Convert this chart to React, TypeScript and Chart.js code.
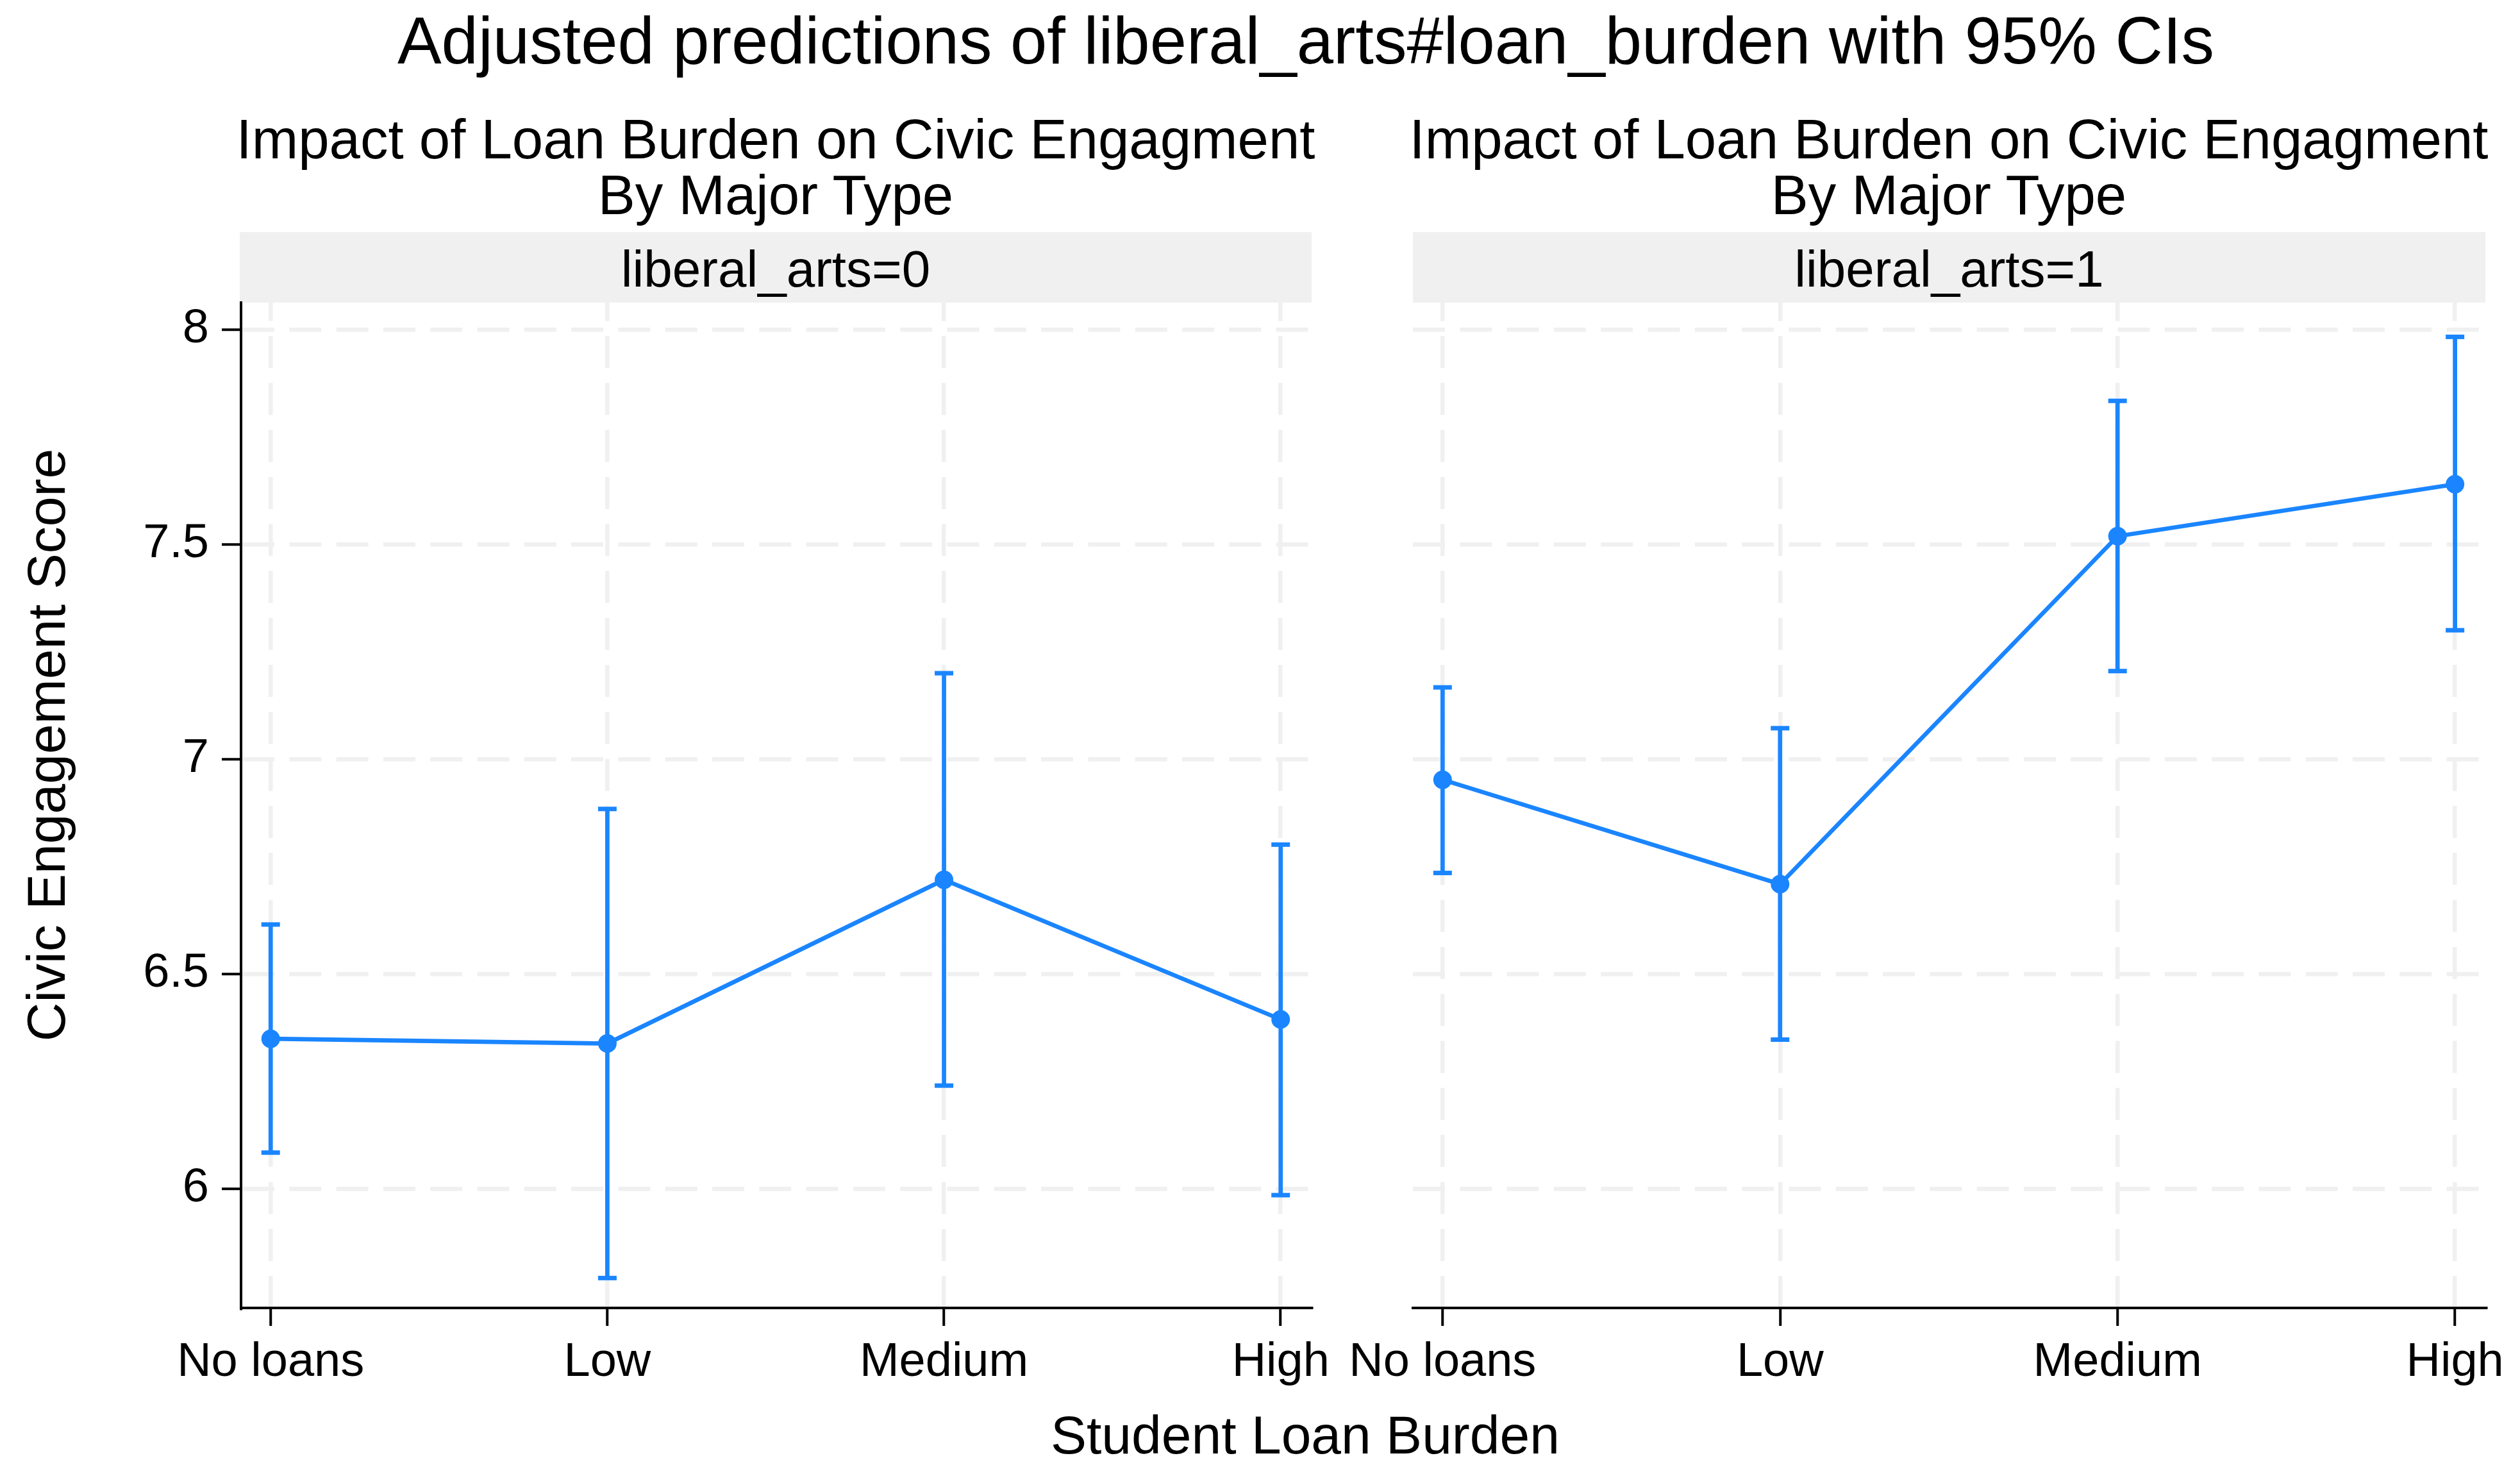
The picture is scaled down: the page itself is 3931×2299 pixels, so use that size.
import React, { useEffect, useRef } from 'react';
import { Chart, registerables } from 'chart.js';

Chart.register(...registerables);

// ---------------- data ----------------
const categories = ['No loans', 'Low', 'Medium', 'High'];
const yTickValues = [6, 6.5, 7, 7.5, 8];
const yTickLabels = ['6', '6.5', '7', '7.5', '8'];
const panelLabels = ['liberal_arts=0', 'liberal_arts=1'];

const margin0 = [6.349, 6.338, 6.719, 6.394];
const lower0 = [6.084, 5.792, 6.24, 5.985];
const upper0 = [6.615, 6.884, 7.2, 6.801];

const margin1 = [6.952, 6.709, 7.519, 7.64];
const lower1 = [6.735, 6.347, 7.205, 7.3];
const upper1 = [7.167, 7.072, 7.834, 7.983];

const mainTitle = 'Adjusted predictions of liberal_arts#loan_burden with 95% CIs';
const subtitleLines = ['Impact of Loan Burden on Civic Engagment', 'By Major Type'];
const xTitle = 'Student Loan Burden';
const yTitle = 'Civic Engagement Score';

// ---------------- style ----------------
const W = 3931;
const H = 2299;
const COLOR = '#1a85ff';
const GRID = '#f0f0f0';
const FONT = "'Liberation Sans', Arial, Helvetica, sans-serif";
const Y_MIN = 5.7224;
const Y_MAX = 8.0627;
const X_MIN = -0.088;
const X_MAX = 3.09;

Chart.defaults.font.family = FONT;

function buildConfig(est: number[], lo: number[], hi: number[], showY: boolean, padding: any) {
  const pts = est.map((v, i) => ({ x: i, y: v }));
  const bars: any[] = [];
  lo.forEach((l, i) => {
    bars.push({ x: i, y: l }, { x: i, y: hi[i] }, { x: i, y: null });
  });
  const caps = [...lo.map((l, i) => ({ x: i, y: l })), ...hi.map((h, i) => ({ x: i, y: h }))];

  const yScale: any = {
    type: 'linear',
    min: Y_MIN,
    max: Y_MAX,
    afterBuildTicks: (s: any) => {
      s.ticks = yTickValues.map((v) => ({ value: v }));
    },
    afterFit: (s: any) => {
      s.width = showY ? 376 : 0;
    },
    ticks: {
      display: showY,
      callback: (_v: any, i: number) => yTickLabels[i],
      font: { family: FONT, size: 74, lineHeight: 1 },
      color: '#000',
      padding: 20,
    },
    grid: {
      color: GRID,
      lineWidth: 6.5,
      tickColor: '#000',
      tickWidth: 4,
      tickLength: 30,
      drawTicks: showY,
    },
    border: { display: showY, color: '#000', width: 4, dash: [50, 23.3], dashOffset: 0 },
  };

  return {
    type: 'line',
    data: {
      datasets: [
        {
          data: pts,
          borderColor: COLOR,
          backgroundColor: COLOR,
          borderWidth: 6.7,
          pointRadius: 14.5,
          pointBorderWidth: 0,
          pointBackgroundColor: COLOR,
          tension: 0,
        },
        {
          data: bars,
          borderColor: COLOR,
          borderWidth: 6.7,
          pointRadius: 0,
          spanGaps: false,
        },
        {
          data: caps,
          showLine: false,
          pointStyle: 'line',
          pointRadius: 14.5,
          pointBorderWidth: 7,
          pointBorderColor: COLOR,
          pointBackgroundColor: COLOR,
        },
      ],
    },
    options: {
      animation: false,
      responsive: false,
      events: [],
      layout: { padding, autoPadding: false },
      plugins: {
        legend: { display: false },
        title: { display: false },
        tooltip: { enabled: false },
      },
      scales: {
        x: {
          type: 'linear',
          min: X_MIN,
          max: X_MAX,
          afterBuildTicks: (s: any) => {
            s.ticks = categories.map((_c, i) => ({ value: i }));
          },
          afterFit: (s: any) => {
            s.height = 150;
          },
          ticks: {
            callback: (_v: any, i: number) => categories[i],
            font: { family: FONT, size: 74, lineHeight: 1 },
            color: '#000',
            padding: 21,
            maxRotation: 0,
            minRotation: 0,
            autoSkip: false,
          },
          grid: {
            color: GRID,
            lineWidth: 6.5,
            tickColor: '#000',
            tickWidth: 4,
            tickLength: 28,
            drawTicks: true,
          },
          border: { display: true, color: '#000', width: 4, dash: [50, 23.3], dashOffset: 21.3 },
        },
        y: yScale,
      },
    },
  };
}

function Panel(props: { est: number[]; lo: number[]; hi: number[]; showY: boolean; left: number; width: number; padding: any }) {
  const ref = useRef<HTMLCanvasElement | null>(null);
  useEffect(() => {
    if (!ref.current) return;
    const chart = new Chart(ref.current, buildConfig(props.est, props.lo, props.hi, props.showY, props.padding) as any);
    return () => chart.destroy();
  }, []);
  return (
    <canvas
      ref={ref}
      width={props.width}
      height={H}
      style={{ position: 'absolute', left: props.left, top: 0, width: props.width, height: H }}
    />
  );
}

const textBase: React.CSSProperties = {
  position: 'absolute',
  fontFamily: FONT,
  color: '#000',
  whiteSpace: 'nowrap',
  textAlign: 'center',
};

function Subtitle({ cx }: { cx: number }) {
  return (
    <div style={{ ...textBase, left: cx - 1000, width: 2000, top: 172.7, fontSize: 87, lineHeight: '87px' }}>
      {subtitleLines.map((l, i) => (
        <div key={i}>{l}</div>
      ))}
    </div>
  );
}

function Strip({ left, width, label }: { left: number; width: number; label: string }) {
  return (
    <div
      style={{
        ...textBase,
        left,
        width,
        top: 362,
        height: 110,
        background: GRID,
        fontSize: 80,
        lineHeight: '116px',
      }}
    >
      {label}
    </div>
  );
}

export default function App() {
  useEffect(() => {
    document.body.style.margin = '0';
  }, []);
  return (
    <div style={{ position: 'fixed', left: 0, top: 0, width: W, height: H, overflow: 'hidden', background: '#fff' }}>
      <div style={{ ...textBase, left: 2037 - 1900, width: 3800, top: 99 - 0.8465 * 103, fontSize: 103, lineHeight: '103px' }}>
        {mainTitle}
      </div>
      <Subtitle cx={1210} />
      <Subtitle cx={3040} />
      <Strip left={374} width={1672} label={panelLabels[0]} />
      <Strip left={2204} width={1673} label={panelLabels[1]} />
      <div
        style={{
          ...textBase,
          left: 72 - 800,
          width: 1600,
          top: 1162 - 42,
          height: 84,
          fontSize: 84,
          lineHeight: '84px',
          transform: 'rotate(-90deg)',
          transformOrigin: 'center center',
        }}
      >
        {yTitle}
      </div>
      <div style={{ ...textBase, left: 2036 - 1000, width: 2000, top: 2267 - 0.8465 * 84, fontSize: 84, lineHeight: '84px' }}>
        {xTitle}
      </div>
      <Panel
        est={margin0}
        lo={lower0}
        hi={upper0}
        showY={true}
        left={0}
        width={2200}
        padding={{ left: 0, top: 472, right: 2200 - 2045, bottom: H - 2040 - 150 }}
      />
      <Panel
        est={margin1}
        lo={lower1}
        hi={upper1}
        showY={false}
        left={1980}
        width={W - 1980}
        padding={{ left: 2204 - 1980, top: 472, right: W - 3877, bottom: H - 2040 - 150 }}
      />
    </div>
  );
}
